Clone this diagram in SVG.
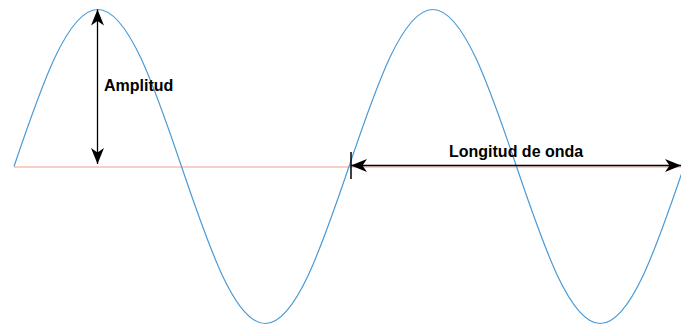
<svg xmlns="http://www.w3.org/2000/svg" width="681" height="326" viewBox="0 0 681 326">
<style>
.wave{fill:none;stroke:#4a9ad6;stroke-width:1.2}
.base{fill:none;stroke:#f0a08a;stroke-width:1.2}
.arr{fill:none;stroke:#000;stroke-width:1.3}
.lbl{font-family:"Liberation Sans",Arial,sans-serif;font-weight:bold;font-size:16px;fill:#000}
</style>
<defs>
<marker id="ah" markerUnits="userSpaceOnUse" markerWidth="18" markerHeight="14" refX="16" refY="6.5" orient="auto-start-reverse" viewBox="0 0 18 14">
<path d="M0,0 L16,6.5 L0,13 L4.5,6.5 Z" fill="#000"/>
</marker>
</defs>
<rect width="681" height="326" fill="#fff"/>
<g id="baseline"><line class="base" x1="14" y1="167" x2="681" y2="167"/></g>
<g id="wave"><path class="wave" d="M14,166.5 C41.31,86.07 67.44,9.5 97.75,9.5 S154.19,86.07 181.5,166.5 S234.94,323.5 265.25,323.5 S321.69,246.93 349,166.5 S402.44,9.5 432.75,9.5 S489.19,86.07 516.5,166.5 S569.94,323.5 600.25,323.5 S656.69,246.93 684,166.5"/></g>
<g id="connectors">
<line class="arr" x1="97.5" y1="9.5" x2="97.5" y2="164" marker-start="url(#ah)" marker-end="url(#ah)"/>
<line class="arr" x1="351" y1="165.5" x2="681" y2="165.5" marker-start="url(#ah)" marker-end="url(#ah)"/>
<line x1="351" y1="152" x2="351" y2="179" stroke="#000" stroke-width="1.5"/>
</g>
<g id="amplitud"><text class="lbl" x="104" y="91">Amplitud</text></g>
<g id="longitud"><text class="lbl" x="449" y="157">Longitud de onda</text></g>
</svg>
